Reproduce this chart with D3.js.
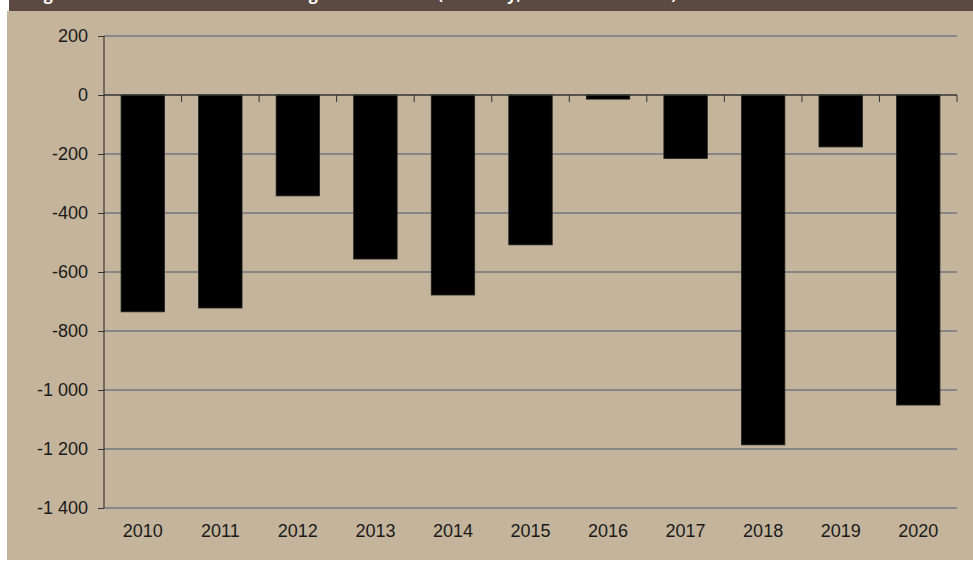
<!DOCTYPE html>
<html><head><meta charset="utf-8">
<script src="https://cdn.jsdelivr.net/npm/d3@7"></script>
<style>body{margin:0;background:#fff;}svg{display:block;}</style>
</head><body>
<svg id="c" width="973" height="561"></svg>
<script>
const titleText = "Figure 3: Total net international migration balance (Germany, total in thousands)";
const categories = ["2010","2011","2012","2013","2014","2015","2016","2017","2018","2019","2020"];
const values = [-735,-722,-342,-556,-678,-508,-14,-215,-1186,-176,-1051];
const yTicks = [200,0,-200,-400,-600,-800,-1000,-1200,-1400];

(function(){
const svg = d3.select("#c");
svg.append("rect").attr("x",7).attr("y",11).attr("width",966).attr("height",549).attr("fill","#c3b49b");
svg.append("rect").attr("x",9).attr("y",0).attr("width",964).attr("height",11).attr("fill","#5a4a41");
svg.append("text").attr("x",30).attr("y",0).attr("fill","#fff")
  .attr("font-family","Open Sans").attr("font-weight","bold").attr("font-size",16).text(titleText);

const pL=104, pR=957, pT=36, pB=508;
const x = d3.scaleBand().domain(categories).range([pL,pR]).paddingInner(0.44).paddingOuter(0.22);
const y = d3.scaleLinear().domain([-1400,200]).range([pB,pT]);
const fmt = v => d3.format(",")(v).replace(/,/g," ").replace(/\u2212/g,"-");

const g = svg.append("g");
g.selectAll(".grid").data(yTicks.filter(t=>t!==0)).join("line")
  .attr("x1",pL).attr("x2",pR).attr("y1",d=>y(d)).attr("y2",d=>y(d))
  .attr("stroke","#868686").attr("stroke-width",2);
g.selectAll(".bar").data(values).join("rect")
  .attr("x",(d,i)=>x(categories[i])).attr("width",x.bandwidth())
  .attr("y",d=>y(Math.max(0,d))).attr("height",d=>Math.abs(y(d)-y(0)))
  .attr("fill","#000").attr("stroke","#222").attr("stroke-width",0.8);
const yAxis = d3.axisLeft(y).tickValues(yTicks).tickFormat(fmt).tickSize(6).tickPadding(10);
const ya = svg.append("g").attr("transform",`translate(${pL},0)`).call(yAxis);
ya.attr("font-family","Liberation Sans, Arial").attr("font-size",18);
ya.select(".domain").attr("stroke","#222").attr("d",`M0,${pT}V${pB}`);
ya.selectAll(".tick line").attr("stroke","#333");
ya.selectAll("text").attr("fill","#1a1a1a");
const bounds = categories.map(c=>x(c)-x.step()*x.paddingInner()/2).concat([pR]);
svg.append("line").attr("x1",pL).attr("x2",pR).attr("y1",y(0)).attr("y2",y(0)).attr("stroke","#333").attr("stroke-width",1.5);
svg.selectAll(".xt").data(bounds.slice(1)).join("line")
  .attr("x1",d=>d).attr("x2",d=>d).attr("y1",y(0)).attr("y2",y(0)+7).attr("stroke","#333").attr("stroke-width",1);
svg.selectAll(".xl").data(categories).join("text")
  .attr("x",d=>x(d)+x.bandwidth()/2).attr("y",537).attr("text-anchor","middle")
  .attr("font-family","Liberation Sans, Arial").attr("font-size",18).attr("fill","#1a1a1a").text(d=>d);
})();
</script>
</body></html>
